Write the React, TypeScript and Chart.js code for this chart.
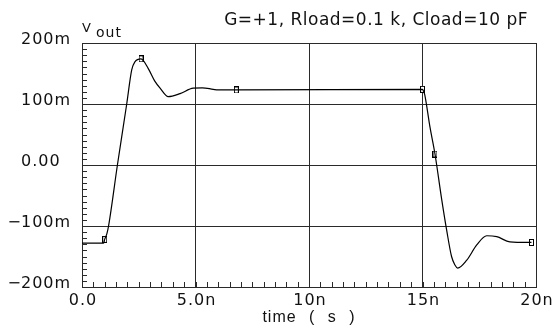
import React, { useEffect, useRef } from "react";
import { Chart, registerables } from "chart.js";

Chart.register(...registerables);

// time in ns, voltage in mV
const times = [0, 0.95, 1.0, 1.1, 1.17, 1.56, 1.97, 2.19, 2.33, 2.6, 2.92, 3.2, 3.44, 3.8, 4.32, 4.9, 5.3, 5.78, 6.0, 6.8, 15.0, 15.05, 15.1, 15.33, 15.55, 15.84, 16.07, 16.28, 16.43, 16.55, 16.95, 17.39, 17.83, 18.27, 18.85, 19.8];
const vout = [-128, -128, -122, -112, -100, 0, 100, 156, 169, 174, 158, 138, 126, 112, 117, 126, 126.5, 124, 123, 123, 124, 121, 115, 62, 18, -55, -108, -150, -164, -169, -156, -131, -116, -117.5, -126, -127];

const markerTimes = [1.0, 2.6, 6.8, 15.0, 15.55, 19.8];
const markerValues = [-122, 174, 123, 124, 18, -127];

const xTickValues = [0, 5, 10, 15, 20];
const xTickLabels = ["0.0", "5.0n", "10n", "15n", "20n"];
const yTickValues = [-200, -100, 0, 100, 200];
const yTickLabels = ["−200m", "−100m", "0.00", "100m", "200m"];

const titleText = "G=+1, Rload=0.1 k, Cload=10 pF";
const yName = "V";
const ySub = "out";
const xTitle = "time ( s )";

const FONT = '"DejaVu Sans"';

function makeMarker(): HTMLCanvasElement {
  const c = document.createElement("canvas");
  c.width = 5;
  c.height = 7;
  const g = c.getContext("2d")!;
  g.fillStyle = "#fff";
  g.fillRect(0, 0, 5, 7);
  g.strokeStyle = "#000";
  g.lineWidth = 1;
  g.strokeRect(0.5, 0.5, 4, 6);
  return c;
}

const overlay = {
  id: "overlay",
  afterDraw(chart: any) {
    const { ctx, chartArea } = chart;
    const x = chart.scales.x;
    const y = chart.scales.y;
    ctx.save();
    // minor ticks
    ctx.strokeStyle = "#2a2a2a";
    ctx.lineWidth = 1;
    ctx.beginPath();
    for (let v = -200; v <= 200; v += 10) {
      const py = Math.round(y.getPixelForValue(v)) + 0.5;
      ctx.moveTo(chartArea.left, py);
      ctx.lineTo(chartArea.left + 5, py);
    }
    for (let t = 0; t <= 20; t += 0.5) {
      const px = Math.round(x.getPixelForValue(t)) + 0.5;
      ctx.moveTo(px, chartArea.bottom);
      ctx.lineTo(px, chartArea.bottom - 5);
    }
    ctx.stroke();

    ctx.fillStyle = "#111";
    // y labels
    ctx.font = `16px ${FONT}`;
    (ctx as any).letterSpacing = "1px";
    ctx.textBaseline = "alphabetic";
    const lx = chartArea.left - 61;
    yTickValues.forEach((v, i) => {
      const py = y.getPixelForValue(v) + 1;
      const lab = yTickLabels[i];
      if (lab.startsWith("−")) {
        ctx.textAlign = "right";
        ctx.fillText("−", lx + 1, py);
        ctx.textAlign = "left";
        ctx.fillText(lab.slice(1), lx, py);
      } else {
        ctx.textAlign = "left";
        ctx.fillText(lab, lx, py);
      }
    });
    // x labels
    ctx.textAlign = "center";
    xTickValues.forEach((v, i) => {
      const px = x.getPixelForValue(v) + 1;
      ctx.fillText(xTickLabels[i], px, chartArea.bottom + 18);
    });
    // x title
    ctx.font = `16px "Liberation Sans"`;
    (ctx as any).letterSpacing = "1px";
    (ctx as any).wordSpacing = "7px";
    ctx.fillText(xTitle, (chartArea.left + chartArea.right) / 2, chartArea.bottom + 35);
    (ctx as any).wordSpacing = "0px";
    // title
    ctx.font = `17px ${FONT}`;
    (ctx as any).letterSpacing = "0.5px";
    ctx.textAlign = "right";
    ctx.fillText(titleText, chartArea.right - 8, chartArea.top - 18);
    // y name
    ctx.textAlign = "left";
    ctx.font = `13px ${FONT}`;
    (ctx as any).letterSpacing = "0px";
    ctx.fillText(yName, chartArea.left, chartArea.top - 11);
    ctx.font = `14px ${FONT}`;
    (ctx as any).letterSpacing = "1px";
    ctx.fillText(ySub, chartArea.left + 14, chartArea.top - 6);
    ctx.restore();
  },
};

export default function App() {
  const ref = useRef<HTMLCanvasElement | null>(null);
  useEffect(() => {
    document.body.style.margin = "0";
    const canvas = ref.current!;
    const marker = makeMarker();
    const chart = new Chart(canvas, {
      type: "line",
      data: {
        datasets: [
          {
            data: times.map((t, i) => ({ x: t, y: vout[i] })),
            borderColor: "#000",
            borderWidth: 1.2,
            pointRadius: 0,
            cubicInterpolationMode: "monotone",
            fill: false,
          },
          {
            data: markerTimes.map((t, i) => ({ x: t, y: markerValues[i] })),
            showLine: false,
            pointStyle: marker as any,
            pointRadius: 3,
            borderColor: "#000",
            backgroundColor: "#fff",
          },
        ],
      },
      options: {
        animation: false,
        responsive: false,
        devicePixelRatio: 1,
        layout: { padding: { top: 43, right: 19, left: 0, bottom: 0 } },
        plugins: { legend: { display: false }, tooltip: { enabled: false }, title: { display: false } },
        scales: {
          x: {
            type: "linear",
            min: 0,
            max: 20,
            afterBuildTicks: (s: any) => {
              s.ticks = xTickValues.map((v) => ({ value: v }));
            },
            afterFit: (s: any) => {
              s.height = 42;
            },
            ticks: { display: false },
            grid: { color: "#2a2a2a", lineWidth: 1, drawTicks: false },
            border: { display: true, color: "#2a2a2a" },
          },
          y: {
            type: "linear",
            min: -200,
            max: 200,
            afterBuildTicks: (s: any) => {
              s.ticks = yTickValues.map((v) => ({ value: v }));
            },
            afterFit: (s: any) => {
              s.width = 82;
            },
            ticks: { display: false },
            grid: { color: "#2a2a2a", lineWidth: 1, drawTicks: false },
            border: { display: true, color: "#2a2a2a" },
          },
        },
      },
      plugins: [overlay],
    });
    return () => chart.destroy();
  }, []);
  return (
    <div style={{ width: 555, height: 329 }}>
      <canvas ref={ref} width={555} height={329} style={{ width: 555, height: 329, display: "block" }} />
    </div>
  );
}
